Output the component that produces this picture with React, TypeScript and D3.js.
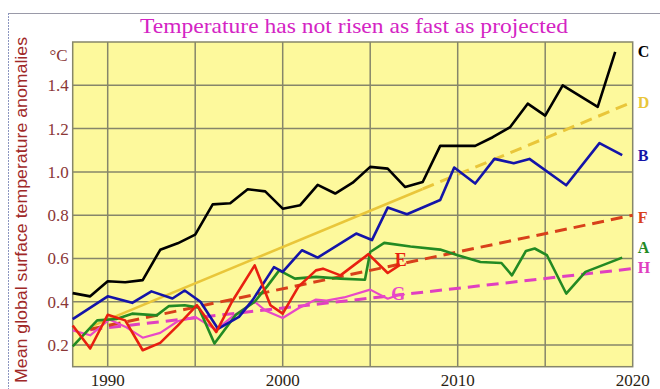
import React from "react";
import * as d3 from "d3";

// ---- data ----
const cYears = [1988, 1989, 1990, 1991, 1992, 1993, 1994, 1995, 1996, 1997, 1998, 1999, 2000, 2001, 2002, 2003, 2004, 2005, 2006, 2007, 2008, 2009, 2010, 2011, 2012, 2013, 2014, 2015, 2016, 2017, 2018, 2019];
const cValues = [0.44, 0.425, 0.495, 0.49, 0.5, 0.64, 0.67, 0.71, 0.85, 0.855, 0.92, 0.91, 0.83, 0.846, 0.94, 0.9, 0.95, 1.023, 1.015, 0.93, 0.953, 1.12, 1.12, 1.12, 1.16, 1.207, 1.315, 1.26, 1.4, 1.35, 1.3, 1.554];

const bYears = [1988, 1990, 1991.4, 1992.5, 1993.7, 1994.4, 1995.3, 1996.3, 1997.5, 1998.3, 1999.5, 2000, 2001.1, 2002, 2004.2, 2005.1, 2006, 2007.1, 2009, 2009.8, 2011, 2012.1, 2013.2, 2014.1, 2016.2, 2018.1, 2019.4];
const bValues = [0.32, 0.425, 0.395, 0.448, 0.415, 0.452, 0.4, 0.275, 0.33, 0.41, 0.56, 0.538, 0.638, 0.604, 0.715, 0.685, 0.835, 0.804, 0.87, 1.02, 0.946, 1.06, 1.04, 1.06, 0.938, 1.133, 1.077];

const aYears = [1988, 1989.4, 1990.5, 1991.4, 1992.8, 1993.5, 1994.4, 1995.2, 1996.1, 1997.3, 1998.4, 1999.1, 1999.8, 2000.7, 2001.9, 2003.3, 2004.7, 2005, 2005.8, 2007.3, 2009, 2010, 2011.3, 2012.5, 2013.1, 2013.9, 2014.4, 2015.1, 2016.2, 2017.3, 2019.4];
const aValues = [0.194, 0.314, 0.32, 0.345, 0.337, 0.38, 0.384, 0.373, 0.207, 0.338, 0.4, 0.47, 0.545, 0.507, 0.515, 0.507, 0.502, 0.63, 0.672, 0.655, 0.641, 0.615, 0.584, 0.579, 0.522, 0.635, 0.646, 0.615, 0.438, 0.538, 0.604];

const eYears = [1988, 1989, 1990, 1991, 1992, 1993, 1994, 1995.1, 1996.2, 1997.1, 1998.4, 1999.3, 2000, 2000.9, 2001.9, 2002.3, 2003.3, 2004.9, 2006, 2006.7];
const eValues = [0.29, 0.184, 0.34, 0.314, 0.176, 0.21, 0.29, 0.384, 0.26, 0.4, 0.568, 0.384, 0.345, 0.47, 0.545, 0.553, 0.522, 0.62, 0.533, 0.57];

const gYears = [1988, 1989, 1990.1, 1991, 1992, 1993, 1994, 1995, 1996.2, 1997.1, 1998.4, 1999, 2000, 2000.9, 2001.9, 2002.5, 2003.5, 2005, 2006, 2006.8];
const gValues = [0.268, 0.245, 0.318, 0.285, 0.234, 0.256, 0.31, 0.33, 0.27, 0.33, 0.4, 0.36, 0.325, 0.37, 0.41, 0.405, 0.42, 0.456, 0.414, 0.437];

// projections (straight lines)
const dSolidYears = [1989, 2008];
const dSolidValues = [0.284, 0.921];
const dDashYears = [2008, 2020];
const dDashValues = [0.921, 1.323];
const fYears = [1989, 2020];
const fValues = [0.273, 0.8];
const hYears = [1989, 2020];
const hValues = [0.271, 0.553];

const yTicks = [0.2, 0.4, 0.6, 0.8, 1.0, 1.2, 1.4];
const yTickLabels = ["0.2", "0.4", "0.6", "0.8", "1.0", "1.2", "1.4"];
const xGrid = [1990, 1995, 2000, 2005, 2010, 2015];
const xTicks = [1990, 2000, 2010, 2020];
const xTickLabels = ["1990", "2000", "2010", "2020"];

const rightLabels = ["C", "D", "B", "F", "A", "H"];
const rightLabelValues = [1.557, 1.32, 1.077, 0.79, 0.652, 0.56];

const titleText = "Temperature has not risen as fast as projected";
const yTitle = "Mean global surface temperature anomalies";

const COLORS: Record<string, string> = {
  C: "#000000",
  D: "#e9c63a",
  B: "#1414a8",
  F: "#d8401a",
  A: "#238a23",
  H: "#e040c0",
  E: "#e82010",
  G: "#e848c8",
};

export default function App() {
  const W = 660;
  const H = 389;
  const x = d3.scaleLinear().domain([1988, 2020]).range([72.7, 632.7]);
  const y = d3.scaleLinear().domain([0.1, 1.6]).range([366.7, 42]);
  const line = d3
    .line<[number, number]>()
    .x((d) => x(d[0]))
    .y((d) => y(d[1]));
  const pts = (ys: number[], vs: number[]) => ys.map((yy, i) => [yy, vs[i]] as [number, number]);

  const [x0, x1] = x.range();
  const [yb, yt] = y.range();
  const gridColor = "#86866a";
  const serif = "'Liberation Serif', 'Times New Roman', Times, serif";

  return (
    <svg
      width={W}
      height={H}
      viewBox={`0 0 ${W} ${H}`}
      style={{ position: "absolute", left: 0, top: 0, background: "#ffffff" }}
    >
      {/* outer frame */}
      <line x1={9} y1={13.5} x2={W} y2={13.5} stroke="#9a9aa8" strokeWidth={1} />
      <line x1={8.5} y1={13} x2={8.5} y2={H} stroke="#8c96c0" strokeWidth={1} strokeDasharray="2,1" />

      {/* title */}
      <text
        x={354}
        y={33}
        textAnchor="middle"
        fontFamily={serif}
        fontSize={21}
        fill="#d424c4"
        textLength={428}
        lengthAdjust="spacingAndGlyphs"
      >
        {titleText}
      </text>

      {/* plot background */}
      <rect x={x0} y={yt} width={x1 - x0} height={yb - yt} fill="#fdf99c" />

      {/* grid */}
      {yTicks.map((t) => (
        <line key={"gy" + t} x1={x0} x2={x1} y1={y(t)} y2={y(t)} stroke={gridColor} strokeWidth={1.5} />
      ))}
      {xGrid.map((t) => (
        <line key={"gx" + t} x1={x(t)} x2={x(t)} y1={yt} y2={yb} stroke={gridColor} strokeWidth={1.5} />
      ))}
      <rect x={x0} y={yt} width={x1 - x0} height={yb - yt} fill="none" stroke={gridColor} strokeWidth={1.5} />

      {/* projection lines */}
      <path d={line(pts(dSolidYears, dSolidValues)) || ""} fill="none" stroke={COLORS.D} strokeWidth={2.6} />
      <path d={line(pts(dDashYears, dDashValues)) || ""} fill="none" stroke={COLORS.D} strokeWidth={3} strokeDasharray="12,7" />
      <path d={line(pts(hYears, hValues)) || ""} fill="none" stroke={COLORS.H} strokeWidth={3} strokeDasharray="12,7" />
      <path d={line(pts(fYears, fValues)) || ""} fill="none" stroke={COLORS.F} strokeWidth={3} strokeDasharray="12,7" />

      {/* observed/scenario lines */}
      <path d={line(pts(gYears, gValues)) || ""} fill="none" stroke={COLORS.G} strokeWidth={2.2} strokeLinejoin="round" />
      <path d={line(pts(aYears, aValues)) || ""} fill="none" stroke={COLORS.A} strokeWidth={2.6} strokeLinejoin="round" />
      <path d={line(pts(bYears, bValues)) || ""} fill="none" stroke={COLORS.B} strokeWidth={2.6} strokeLinejoin="round" />
      <path d={line(pts(eYears, eValues)) || ""} fill="none" stroke={COLORS.E} strokeWidth={2.6} strokeLinejoin="round" />
      <path d={line(pts(cYears, cValues)) || ""} fill="none" stroke={COLORS.C} strokeWidth={2.6} strokeLinejoin="round" />

      {/* in-plot labels */}
      <text x={x(2006.4)} y={y(0.594)} dy="0.35em" fontFamily={serif} fontWeight="bold" fontSize={18} fill={COLORS.E}>
        E
      </text>
      <text x={x(2006.2)} y={y(0.435)} dy="0.35em" fontFamily={serif} fontWeight="bold" fontSize={18} fill={COLORS.G}>
        G
      </text>

      {/* right labels */}
      {rightLabels.map((l, i) => (
        <text
          key={l}
          x={x1 + 5}
          y={y(rightLabelValues[i])}
          dy="0.35em"
          fontFamily={serif}
          fontWeight="bold"
          fontSize={16}
          fill={COLORS[l]}
        >
          {l}
        </text>
      ))}

      {/* y tick labels */}
      {yTicks.map((t, i) => (
        <text key={"yl" + t} x={x0 - 4} y={y(t)} dy="0.35em" textAnchor="end" fontFamily={serif} fontSize={17} fill="#8a3636">
          {yTickLabels[i]}
        </text>
      ))}
      <text x={x0 - 5} y={y(1.54)} dy="0.35em" textAnchor="end" fontFamily={serif} fontSize={17} fill="#8a3636">
        °C
      </text>

      {/* x tick labels */}
      {xTicks.map((t, i) => (
        <text key={"xl" + t} x={x(t)} y={386} textAnchor="middle" fontFamily={serif} fontSize={17} fill="#2a1e14">
          {xTickLabels[i]}
        </text>
      ))}

      {/* y axis title */}
      <text
        transform={`translate(27, 210) rotate(-90)`}
        textAnchor="middle"
        fontFamily="'Liberation Sans Narrow', 'Liberation Sans', Arial, sans-serif"
        fontSize={16}
        fill="#a02828"
        textLength={346}
        lengthAdjust="spacingAndGlyphs"
      >
        {yTitle}
      </text>
    </svg>
  );
}
